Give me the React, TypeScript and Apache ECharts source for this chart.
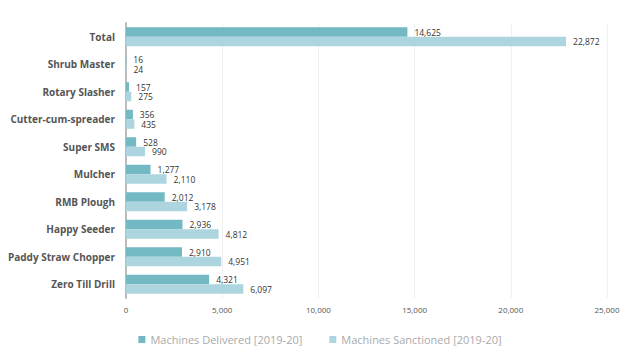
import React, { useEffect, useRef } from "react";
import * as echarts from "echarts";

const categories = [
  "Total",
  "Shrub Master",
  "Rotary Slasher",
  "Cutter-cum-spreader",
  "Super SMS",
  "Mulcher",
  "RMB Plough",
  "Happy Seeder",
  "Paddy Straw Chopper",
  "Zero Till Drill",
];
const delivered = [14625, 16, 157, 356, 528, 1277, 2012, 2936, 2910, 4321];
const sanctioned = [22872, 24, 275, 435, 990, 2110, 3178, 4812, 4951, 6097];
const seriesNames = ["Machines Delivered [2019-20]", "Machines Sanctioned [2019-20]"];
const xTicks = [0, 5000, 10000, 15000, 20000, 25000];

const fmt = (v: number) => v.toLocaleString("en-US");

export default function App() {
  const ref = useRef<HTMLDivElement>(null);
  useEffect(() => {
    if (!ref.current) return;
    const chart = echarts.init(ref.current, undefined, { renderer: "svg" });
    const labelStyle = {
      show: true,
      position: "right" as const,
      distance: 7,
      fontSize: 8.5,
      lineHeight: 9,
      color: "#333",
      fontFamily: "Open Sans",
      formatter: (p: any) => fmt(p.value),
    };
    chart.setOption({
      animation: false,
      backgroundColor: "#fff",
      grid: { left: 126, right: 33, top: 23, bottom: 65, containLabel: false },
      legend: {
        bottom: 13,
        left: "center",
        itemWidth: 7,
        itemHeight: 7,
        itemGap: 27,
        icon: "rect",
        textStyle: { color: "#aaa", fontSize: 11, fontFamily: "Open Sans" },
        data: seriesNames,
      },
      xAxis: {
        type: "value",
        min: xTicks[0],
        max: xTicks[xTicks.length - 1],
        interval: 5000,
        axisLine: { show: false },
        axisTick: { show: false },
        splitLine: { lineStyle: { color: "#f0f0f0", width: 1 } },
        axisLabel: {
          color: "#555",
          fontSize: 8,
          fontFamily: "Open Sans",
          margin: 7,
          formatter: (v: number) => fmt(v),
        },
      },
      yAxis: {
        type: "category",
        data: categories,
        inverse: true,
        axisLine: { lineStyle: { color: "#bbb", width: 2 } },
        axisTick: { show: false },
        axisLabel: {
          color: "#555",
          fontSize: 10,
          fontWeight: "bold",
          fontFamily: "Open Sans",
          margin: 11,
        },
      },
      series: [
        {
          name: seriesNames[0],
          type: "bar",
          data: delivered,
          barWidth: 9.5,
          barGap: "0%",
          itemStyle: { color: "#72b9c3" },
          label: labelStyle,
        },
        {
          name: seriesNames[1],
          type: "bar",
          data: sanctioned,
          barWidth: 9.5,
          barGap: "0%",
          itemStyle: { color: "#acd5df" },
          label: labelStyle,
        },
      ],
    });
    return () => chart.dispose();
  }, []);
  return <div ref={ref} style={{ width: 640, height: 363, margin: -8 }} />;
}
